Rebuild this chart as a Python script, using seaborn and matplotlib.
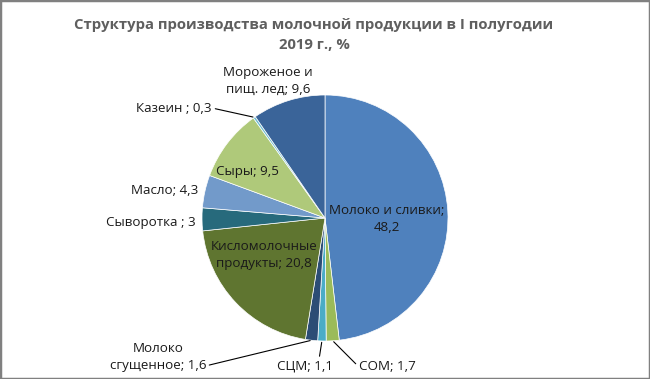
import numpy as np
import matplotlib
matplotlib.use("Agg")
import matplotlib.pyplot as plt
import matplotlib.patches as mpatches
import seaborn as sns

# data: order is clockwise from 12 o'clock
categories = ["Молоко и сливки", "СОМ", "СЦМ", "Молоко сгущенное",
              "Кисломолочные продукты", "Сыворотка ", "Масло", "Сыры",
              "Казеин ", "Мороженое и пищ. лед"]
values = [48.2, 1.7, 1.1, 1.6, 20.8, 3, 4.3, 9.5, 0.3, 9.6]
colors = ["#4F81BD", "#9BBB59", "#4BACC6", "#2C4D75", "#5F7530",
          "#276A7C", "#729ACA", "#AFC97A", "#6FBDD1", "#3A6499"]

title = "Структура производства молочной продукции в I полугодии\n2019 г., %"

W, H = 650, 379
sns.set_theme(style="white")
plt.rcParams["font.family"] = ["Open Sans", "DejaVu Sans"]

fig = plt.figure(figsize=(W / 100, H / 100), dpi=100)
fig.patch.set_facecolor("white")

# pie center ~ (325, 218) px from top-left, radius ~123 px
cx, cy, r = 325, 218, 123
ax = fig.add_axes([(cx - r) / W, (H - cy - r) / H, 2 * r / W, 2 * r / H])
wedges, _ = ax.pie(values, colors=colors, startangle=90, counterclock=False,
                   radius=1, wedgeprops=dict(edgecolor="white", linewidth=0.5))
ax.set_xlim(-1, 1)
ax.set_ylim(-1, 1)
ax.set_aspect("equal")
ax.axis("off")


def px(x, y):
    return (x / W, 1 - y / H)


def fmt(v):
    return ("%g" % v).replace(".", ",")


def label_text(name, v):
    return f"{name}; {fmt(v)}"


# mid angle of each wedge, in data coords on the rim
total = sum(values)
cum = np.cumsum(values) - np.array(values) / 2
theta = np.deg2rad(90 - 360 * cum / total)
rim = [(np.cos(t), np.sin(t)) for t in theta]

fs = 9.6
ls = 1.35
tc = "#1a1a1a"

# inside labels
fig.text(*px(387, 219), "Молоко и сливки;\n48,2", ha="center", va="center",
         fontsize=fs, color=tc, linespacing=ls)
fig.text(*px(264, 255), "Кисломолочные\nпродукты; 20,8", ha="center",
         va="center", fontsize=fs, color=tc, linespacing=ls)
fig.text(*px(247, 172), label_text("Сыры", values[7]), ha="center",
         va="center", fontsize=fs, color=tc)

# outside labels without leaders
fig.text(*px(268, 81), "Мороженое и\nпищ. лед; " + fmt(values[9]),
         ha="center", va="center", fontsize=fs, color=tc, linespacing=ls)
fig.text(*px(198, 190), label_text("Масло", values[6]), ha="right",
         va="center", fontsize=fs, color=tc)
fig.text(*px(196, 222), label_text("Сыворотка ", values[5]), ha="right",
         va="center", fontsize=fs, color=tc)

line = dict(arrowstyle="-", color="black", lw=0.8, shrinkA=0, shrinkB=1)

ax.annotate(label_text("Казеин ", values[8]), xy=rim[8], xycoords="data",
            xytext=px(212, 108), textcoords="figure fraction",
            ha="right", va="center", fontsize=fs, color=tc,
            arrowprops=dict(line, relpos=(1.0, 0.5)))

ax.annotate("Молоко\nсгущенное; " + fmt(values[3]), xy=rim[3], xycoords="data",
            xytext=px(206, 357), textcoords="figure fraction",
            ha="right", va="center", fontsize=fs, color=tc, linespacing=ls,
            multialignment="center",
            arrowprops=dict(line, relpos=(1.0, 0.2)))

ax.annotate(label_text("СЦМ", values[2]), xy=rim[2], xycoords="data",
            xytext=px(305, 366), textcoords="figure fraction",
            ha="center", va="center", fontsize=fs, color=tc,
            arrowprops=dict(line, relpos=(0.75, 1.0)))

ax.annotate(label_text("СОМ", values[1]), xy=rim[1], xycoords="data",
            xytext=px(359, 366), textcoords="figure fraction",
            ha="left", va="center", fontsize=fs, color=tc,
            arrowprops=dict(line, relpos=(0.0, 0.5),
                            connectionstyle="angle,angleA=0,angleB=-45,rad=0"))

fig.text(*px(314, 35), title, ha="center", va="center", fontsize=10.7,
         fontweight="bold", color="#5f5f5f", linespacing=1.5)

fig.add_artist(mpatches.Rectangle((0, 0), 1, 1, transform=fig.transFigure,
                                  fill=False, edgecolor="#808080", lw=2.5))

fig.savefig("out.png", dpi=100, facecolor="white")
